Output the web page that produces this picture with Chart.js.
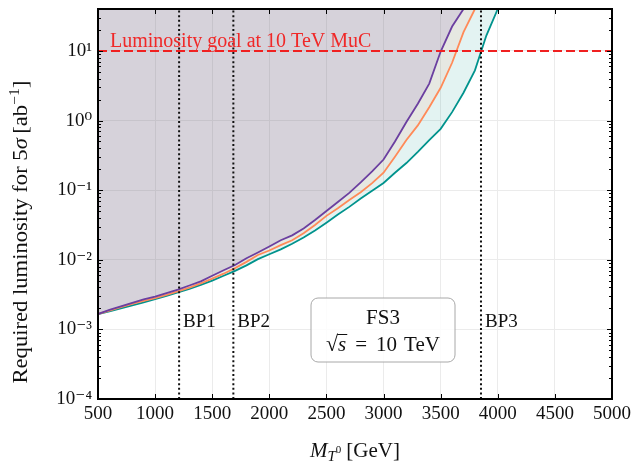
<!DOCTYPE html>
<html>
<head>
<meta charset="utf-8">
<script src="https://cdn.jsdelivr.net/npm/chart.js@4.4.1/dist/chart.umd.min.js"></script>
<style>
  html, body { margin: 0; padding: 0; background: #ffffff; }
  #wrap { width: 632px; height: 464px; }
</style>
</head>
<body>
<div id="wrap"><canvas id="lumi" width="632" height="464"></canvas></div>
<script>
// Required luminosity (ab^-1) for 5 sigma vs. M_T0, FS3 at sqrt(s) = 10 TeV
const massGrid = [500, 600, 700, 800, 900, 1000, 1100, 1200, 1300, 1400, 1500,
                  1600, 1700, 1800, 1900, 2000, 2100, 2200, 2300, 2400, 2500,
                  2600, 2700, 2800, 2900, 3000, 3100, 3200, 3300, 3400, 3500,
                  3600, 3700, 3800, 3900, 4000, 4100];

const lumiPurple = [0.00166, 0.00191, 0.00214, 0.00240, 0.00269, 0.00295, 0.00331, 0.00372,
                    0.00427, 0.00490, 0.00589, 0.00708, 0.00841, 0.0105, 0.0127, 0.0155,
                    0.0191, 0.0224, 0.0282, 0.0372, 0.0501, 0.0676, 0.0912, 0.129, 0.186,
                    0.275, 0.50, 0.955, 1.74, 3.39, 9.8, 22.4, 40,
                    null, null, null, null];

const lumiOrange = [0.00166, 0.00186, 0.00209, 0.00232, 0.00257, 0.00282, 0.00313, 0.00351,
                    0.00398, 0.00457, 0.00537, 0.00631, 0.00759, 0.00933, 0.0117, 0.0136,
                    0.0162, 0.0191, 0.0240, 0.0316, 0.0427, 0.0550, 0.0724, 0.0933, 0.126,
                    0.178, 0.302, 0.525, 0.851, 1.55, 2.95, 6.76, 18.6, 40,
                    null, null, null];

const lumiTeal   = [0.00166, 0.00182, 0.00200, 0.00221, 0.00245, 0.00271, 0.00302, 0.00339,
                    0.00380, 0.00437, 0.00501, 0.00589, 0.00692, 0.00832, 0.0102, 0.0120,
                    0.0141, 0.0170, 0.0209, 0.0263, 0.0341, 0.0447, 0.0575, 0.0759, 0.0977,
                    0.127, 0.178, 0.245, 0.355, 0.525, 0.759, 1.32, 2.51, 5.25, 16.6, 40, 40];

const goalLumi   = 10;                  // luminosity goal at 10 TeV MuC
const benchMass  = [1210, 1685, 3853];  // BP1, BP2, BP3
const benchNames = ['BP1', 'BP2', 'BP3'];

const xTickValues = [500, 1000, 1500, 2000, 2500, 3000, 3500, 4000, 4500, 5000];
const xTickLabels = ['500', '1000', '1500', '2000', '2500', '3000', '3500', '4000', '4500', '5000'];
const yTickValues = [1e-4, 1e-3, 1e-2, 1e-1, 1, 10];
const yTickLabels = ['10\u207B\u2074', '10\u207B\u00B3', '10\u207B\u00B2', '10\u207B\u00B9', '10\u2070', '10\u00B9'];

const SERIF = '"Liberation Serif", "DejaVu Serif", serif';
const PURPLE = '#6b3fa0', ORANGE = '#ff8a58', TEAL = '#00938d';

function series(values) {
  const pts = [];
  values.forEach((v, i) => { if (v !== null) pts.push({ x: massGrid[i], y: v }); });
  return pts;
}

// text runs: {t, font, dy, gap} drawn left to right from x on baseline y
function runsWidth(ctx, runs) {
  return runs.reduce((w, r) => { ctx.font = r.font; return w + ctx.measureText(r.t).width + (r.gap || 0); }, 0);
}
function drawRuns(ctx, runs, x, y) {
  let cx = x;
  runs.forEach(r => {
    ctx.font = r.font;
    ctx.fillText(r.t, cx, y + (r.dy || 0));
    cx += ctx.measureText(r.t).width + (r.gap || 0);
  });
  return cx;
}

const frame = {
  id: 'frame',
  afterDatasetsDraw(chart) {
    const { ctx, chartArea: a, scales: { x, y } } = chart;
    ctx.save();
    ctx.strokeStyle = '#000000';
    ctx.lineWidth = 1;
    ctx.beginPath();
    xTickValues.forEach(v => {
      const px = Math.round(x.getPixelForValue(v)) + 0.5;
      ctx.moveTo(px, a.bottom); ctx.lineTo(px, a.bottom - 5);
      ctx.moveTo(px, a.top);    ctx.lineTo(px, a.top + 5);
    });
    yTickValues.forEach(dec => {
      for (let m = 1; m <= 9; m++) {
        const v = dec * m;
        if (v > y.max) break;
        const py = Math.round(y.getPixelForValue(v)) + 0.5;
        const len = m === 1 ? 5 : 3;
        ctx.moveTo(a.left, py);  ctx.lineTo(a.left + len, py);
        ctx.moveTo(a.right, py); ctx.lineTo(a.right - len, py);
      }
    });
    ctx.stroke();
    ctx.lineWidth = 2;
    ctx.strokeRect(a.left, a.top, a.right - a.left, a.bottom - a.top);
    ctx.restore();
  }
};

const notes = {
  id: 'notes',
  afterDraw(chart) {
    const { ctx, chartArea: a, scales: { x, y } } = chart;
    ctx.save();
    ctx.textBaseline = 'alphabetic';

    // goal label
    ctx.fillStyle = '#f02828';
    ctx.font = '20px ' + SERIF;
    ctx.fillText('Luminosity goal at 10 TeV MuC', 110, y.getPixelForValue(goalLumi) - 4);

    // benchmark labels
    ctx.fillStyle = '#111111';
    ctx.font = '19px ' + SERIF;
    benchMass.forEach((m, i) => {
      ctx.fillText(benchNames[i], x.getPixelForValue(m) + 4, 327);
    });

    // info box
    const bx = 311, by = 298, bw = 144, bh = 64, r = 7;
    ctx.beginPath();
    ctx.moveTo(bx + r, by);
    ctx.arcTo(bx + bw, by, bx + bw, by + bh, r);
    ctx.arcTo(bx + bw, by + bh, bx, by + bh, r);
    ctx.arcTo(bx, by + bh, bx, by, r);
    ctx.arcTo(bx, by, bx + bw, by, r);
    ctx.closePath();
    ctx.fillStyle = 'rgba(255,255,255,0.85)';
    ctx.fill();
    ctx.strokeStyle = '#a8a8a8';
    ctx.lineWidth = 1;
    ctx.stroke();

    ctx.fillStyle = '#111111';
    ctx.font = '21px ' + SERIF;
    ctx.textAlign = 'center';
    ctx.fillText('FS3', bx + bw / 2, 324);
    ctx.textAlign = 'left';
    const line2 = [
      { t: '\u221A', font: '22px ' + SERIF },
      { t: 's', font: 'italic 21px ' + SERIF, gap: 9 },
      { t: '=', font: '21px ' + SERIF, gap: 9 },
      { t: '10', font: '21px ' + SERIF, gap: 7 },
      { t: 'TeV', font: '21px ' + SERIF }
    ];
    const w2 = runsWidth(ctx, line2);
    const x0 = bx + bw / 2 - w2 / 2;
    ctx.font = '22px ' + SERIF;
    const rootW = ctx.measureText('\u221A').width;
    ctx.font = 'italic 21px ' + SERIF;
    const sW = ctx.measureText('s').width;
    drawRuns(ctx, line2, x0, 351);
    ctx.beginPath();
    ctx.strokeStyle = '#111111';
    ctx.lineWidth = 1;
    ctx.moveTo(x0 + rootW - 1, 334.5);
    ctx.lineTo(x0 + rootW + sW + 1, 334.5);
    ctx.stroke();

    // x title
    const xt = [
      { t: 'M', font: 'italic 21px ' + SERIF },
      { t: 'T', font: 'italic 15px ' + SERIF, dy: 4 },
      { t: '0', font: '11px ' + SERIF, dy: -4, gap: 5 },
      { t: '[GeV]', font: '21px ' + SERIF }
    ];
    const wx = runsWidth(ctx, xt);
    drawRuns(ctx, xt, (a.left + a.right) / 2 - wx / 2, 457);

    // y title, stretched a little to the width of the Computer Modern face
    const yt = [
      { t: 'Required luminosity for 5', font: '20px ' + SERIF },
      { t: '\u03C3', font: 'italic 20px ' + SERIF, gap: 4 },
      { t: '[ab', font: '20px ' + SERIF },
      { t: '\u22121', font: '14px ' + SERIF, dy: -8 },
      { t: ']', font: '20px ' + SERIF }
    ];
    const wy = runsWidth(ctx, yt);
    const stretch = 1.13;
    ctx.translate(27, 232);
    ctx.rotate(-Math.PI / 2);
    ctx.scale(stretch, 1);
    drawRuns(ctx, yt, -wy / 2, 0);
    ctx.restore();
  }
};

const lineStyle = { pointRadius: 0, borderWidth: 1.8, tension: 0 };
const vline = m => [{ x: m, y: 1e-4 }, { x: m, y: 40 }];

new Chart(document.getElementById('lumi'), {
  type: 'line',
  data: {
    datasets: [
      { ...lineStyle, data: series(lumiPurple), borderColor: PURPLE, fill: 'end',
        backgroundColor: 'rgba(107,63,160,0.13)', order: 3 },
      { ...lineStyle, data: series(lumiOrange), borderColor: ORANGE, fill: 'end',
        backgroundColor: 'rgba(255,138,88,0.10)', order: 4 },
      { ...lineStyle, data: series(lumiTeal), borderColor: TEAL, fill: 'end',
        backgroundColor: 'rgba(0,147,141,0.11)', order: 5 },
      { data: [{ x: 500, y: goalLumi }, { x: 5000, y: goalLumi }], borderColor: '#f02020',
        borderWidth: 2, borderDash: [9, 4], pointRadius: 0, fill: false, order: 1 },
      ...benchMass.map(m => ({ data: vline(m), borderColor: '#111111', borderWidth: 2,
        borderDash: [2, 2.6], pointRadius: 0, fill: false, order: 2 }))
    ]
  },
  options: {
    responsive: false,
    animation: false,
    layout: { padding: { top: 9, right: 20, left: 0, bottom: 0 } },
    plugins: {
      legend: { display: false },
      tooltip: { enabled: false },
      filler: { drawTime: 'beforeDatasetsDraw' }
    },
    scales: {
      x: {
        type: 'linear', min: 500, max: 5000,
        afterBuildTicks: s => { s.ticks = xTickValues.map(v => ({ value: v })); },
        afterFit: s => { s.height = 65; s.paddingLeft = 0; s.paddingRight = 0; },
        ticks: { font: { family: SERIF, size: 19 }, color: '#111111', padding: 4,
                 maxRotation: 0, autoSkip: false, callback: (v, i) => xTickLabels[i] },
        grid: { color: '#ebebeb', drawTicks: false },
        border: { display: false }
      },
      y: {
        type: 'logarithmic', min: 1e-4, max: 40,
        afterBuildTicks: s => { s.ticks = yTickValues.map(v => ({ value: v })); },
        afterFit: s => { s.width = 98; s.paddingTop = 0; s.paddingBottom = 0; },
        ticks: { font: { family: SERIF, size: 19 }, color: '#111111', padding: 6,
                 autoSkip: false, callback: (v, i) => yTickLabels[i] },
        grid: { color: '#ebebeb', drawTicks: false },
        border: { display: false }
      }
    }
  },
  plugins: [frame, notes]
});
</script>
</body>
</html>
